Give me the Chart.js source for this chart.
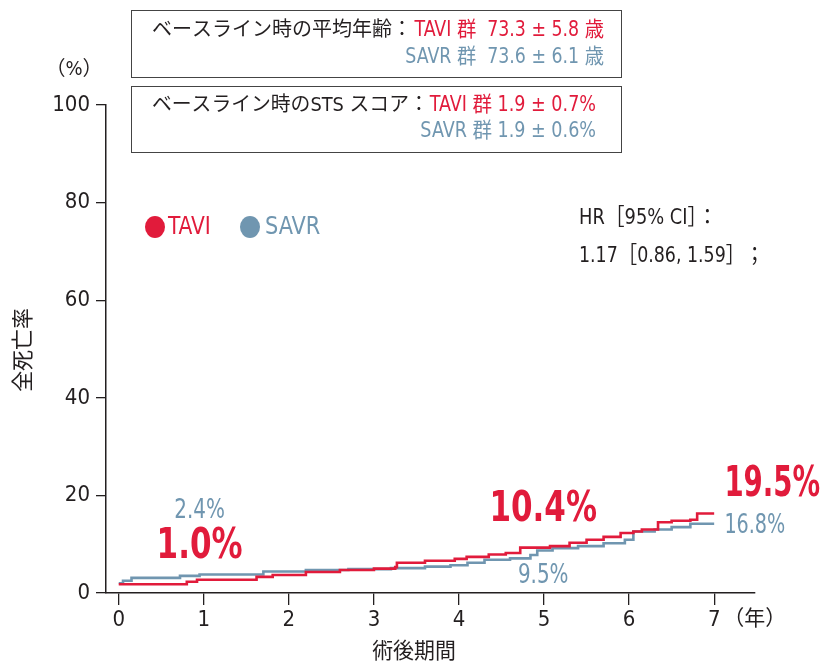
<!DOCTYPE html>
<html>
<head>
<meta charset="utf-8">
<script src="https://cdn.jsdelivr.net/npm/chart.js@4.4.1/dist/chart.umd.min.js"></script>
<style>
html, body { margin: 0; padding: 0; background: #fff; }
</style>
</head>
<body>
<canvas id="kmChart" width="823" height="665"></canvas>
<script>
// 軸
const yearTicks = [0, 1, 2, 3, 4, 5, 6, 7];
const rateTicks = [0, 20, 40, 60, 80, 100];
const groupNames = ['TAVI', 'SAVR'];

// TAVI群 累積死亡率 (年, %)
const taviTime = [0, 0.8, 0.92, 1.62, 1.81, 2.2, 2.6, 3.0, 3.25, 3.27, 3.6, 3.95, 4.09, 4.35, 4.55, 4.72, 5.07, 5.3, 5.5, 5.7, 5.9, 6.05, 6.15, 6.34, 6.5, 6.72, 6.8, 7.0];
const taviRate = [1.8, 2.3, 2.7, 3.3, 3.7, 4.3, 4.7, 5.0, 5.3, 6.2, 6.6, 7.0, 7.4, 7.9, 8.2, 9.3, 9.6, 10.3, 10.9, 11.5, 12.3, 12.6, 13.0, 14.5, 14.8, 15.0, 16.3, 16.3];

// SAVR群
const savrTime = [0, 0.05, 0.15, 0.72, 0.95, 1.7, 2.2, 2.7, 3.2, 3.6, 3.9, 4.1, 4.3, 4.6, 4.84, 4.92, 5.1, 5.4, 5.7, 5.95, 6.05, 6.3, 6.5, 6.72, 7.0];
const savrRate = [2.0, 2.5, 3.1, 3.5, 3.8, 4.4, 4.7, 4.9, 5.1, 5.4, 5.7, 6.2, 6.8, 7.1, 7.8, 8.7, 9.2, 9.6, 10.2, 10.9, 12.6, 13.0, 13.5, 14.2, 14.2];

const RED = '#e11b3b';
const BLUE = '#7096b0';
const INK = '#231f20';
const FONT = '"Liberation Sans Narrow", "DejaVu Sans Condensed", "Noto Sans CJK JP", sans-serif';

function toPoints(ts, vs) {
    return ts.map((t, i) => ({ x: t, y: vs[i] }));
}

// 横方向に詰めて描く(元図は長体の書体)
function txt(ctx, s, x, y, color, size, align, bold, sx) {
    sx = sx || 0.85;
    ctx.save();
    ctx.font = (bold ? 'bold ' : '') + size + 'px ' + FONT;
    ctx.fillStyle = color;
    ctx.textAlign = align || 'left';
    ctx.textBaseline = 'middle';
    ctx.translate(x, y);
    ctx.scale(sx, 1);
    ctx.fillText(s, 0, 0);
    ctx.restore();
}

// 枠、凡例、注記
const extras = {
    id: 'extras',
    afterDraw(chart) {
        const ctx = chart.ctx;
        const xs = chart.scales.x, ys = chart.scales.y;
        ctx.save();

        ctx.strokeStyle = '#444';
        ctx.lineWidth = 1;
        ctx.strokeRect(131.5, 10.5, 490, 67);
        ctx.strokeRect(131.5, 86.5, 490, 66);

        txt(ctx, 'ベースライン時の平均年齢：', 152, 31, INK, 20, 'left', false, 1.0);
        txt(ctx, 'TAVI 群  73.3 ± 5.8 歳', 604, 31, RED, 21, 'right', false, 0.92);
        txt(ctx, 'SAVR 群  73.6 ± 6.1 歳', 604, 58, BLUE, 21, 'right', false, 0.92);
        txt(ctx, 'ベースライン時のSTS スコア：', 152, 106, INK, 20, 'left', false, 0.99);
        txt(ctx, 'TAVI 群 1.9 ± 0.7%', 596, 106, RED, 21, 'right', false, 0.93);
        txt(ctx, 'SAVR 群 1.9 ± 0.6%', 596, 132, BLUE, 21, 'right', false, 0.93);

        txt(ctx, '（%）', 74, 70, INK, 20, 'center', false, 1.0);

        // 凡例
        ctx.fillStyle = RED;
        ctx.beginPath(); ctx.ellipse(155, 227, 10, 11, 0, 0, Math.PI * 2); ctx.fill();
        txt(ctx, groupNames[0], 168, 227, RED, 25, 'left', false, 0.9);
        ctx.fillStyle = BLUE;
        ctx.beginPath(); ctx.ellipse(250, 227, 10, 11, 0, 0, Math.PI * 2); ctx.fill();
        txt(ctx, groupNames[1], 265, 227, BLUE, 25, 'left', false, 0.93);

        txt(ctx, 'HR［95% CI］：', 579, 218, INK, 22, 'left', false, 0.9);
        txt(ctx, '1.17［0.86, 1.59］；', 579, 256, INK, 22, 'left', false, 0.88);

        // 数値ラベル
        txt(ctx, '2.4%', xs.getPixelForValue(0.95), ys.getPixelForValue(16.8), BLUE, 27, 'center', false, 0.82);
        txt(ctx, '1.0%', xs.getPixelForValue(0.95), ys.getPixelForValue(9.4), RED, 42, 'center', true, 0.82);
        txt(ctx, '10.4%', xs.getPixelForValue(4.99), ys.getPixelForValue(17.0), RED, 42, 'center', true, 0.82);
        txt(ctx, '9.5%', xs.getPixelForValue(4.99), ys.getPixelForValue(3.5), BLUE, 27, 'center', false, 0.82);
        txt(ctx, '19.5%', xs.getPixelForValue(7.12), ys.getPixelForValue(22.1), RED, 42, 'left', true, 0.73);
        txt(ctx, '16.8%', xs.getPixelForValue(7.12), ys.getPixelForValue(13.7), BLUE, 26, 'left', false, 0.82);

        // 軸タイトル
        txt(ctx, '（年）', xs.getPixelForValue(7) + 9, 620, INK, 21, 'left', false, 1.0);
        txt(ctx, '術後期間', 414, 652, INK, 22, 'center', false, 0.95);
        ctx.translate(24, 350);
        ctx.rotate(-Math.PI / 2);
        txt(ctx, '全死亡率', 0, 0, INK, 22, 'center', false, 0.95);

        ctx.restore();
    }
};

const ctx = document.getElementById('kmChart').getContext('2d');
new Chart(ctx, {
    type: 'line',
    data: {
        datasets: [
            {
                label: groupNames[0],
                data: toPoints(taviTime, taviRate),
                borderColor: RED,
                borderWidth: 2.6,
                stepped: true,
                pointRadius: 0,
                fill: false
            },
            {
                label: groupNames[1],
                data: toPoints(savrTime, savrRate),
                borderColor: BLUE,
                borderWidth: 2.6,
                stepped: true,
                pointRadius: 0,
                fill: false
            }
        ]
    },
    options: {
        responsive: false,
        animation: false,
        layout: { padding: { top: 105, right: 68, left: 0, bottom: 0 } },
        plugins: {
            legend: { display: false },
            tooltip: { enabled: false }
        },
        scales: {
            x: {
                type: 'linear',
                min: -0.15,
                max: 7.48,
                afterBuildTicks: (s) => { s.ticks = yearTicks.map(v => ({ value: v })); },
                afterFit: (s) => { s.height = 72; },
                ticks: { color: INK, font: { size: 22, family: FONT }, padding: 2 },
                grid: { drawOnChartArea: false, tickLength: 12, color: INK, lineWidth: 1.3 },
                border: { color: INK, width: 1.5 }
            },
            y: {
                min: 0,
                max: 100,
                afterBuildTicks: (s) => { s.ticks = rateTicks.map(v => ({ value: v })); },
                afterFit: (s) => { s.width = 106; },
                ticks: { color: INK, font: { size: 22, family: FONT }, padding: 6 },
                grid: { drawOnChartArea: false, tickLength: 10, color: INK, lineWidth: 1.3 },
                border: { color: INK, width: 1.5 }
            }
        }
    },
    plugins: [extras]
});
</script>
</body>
</html>
